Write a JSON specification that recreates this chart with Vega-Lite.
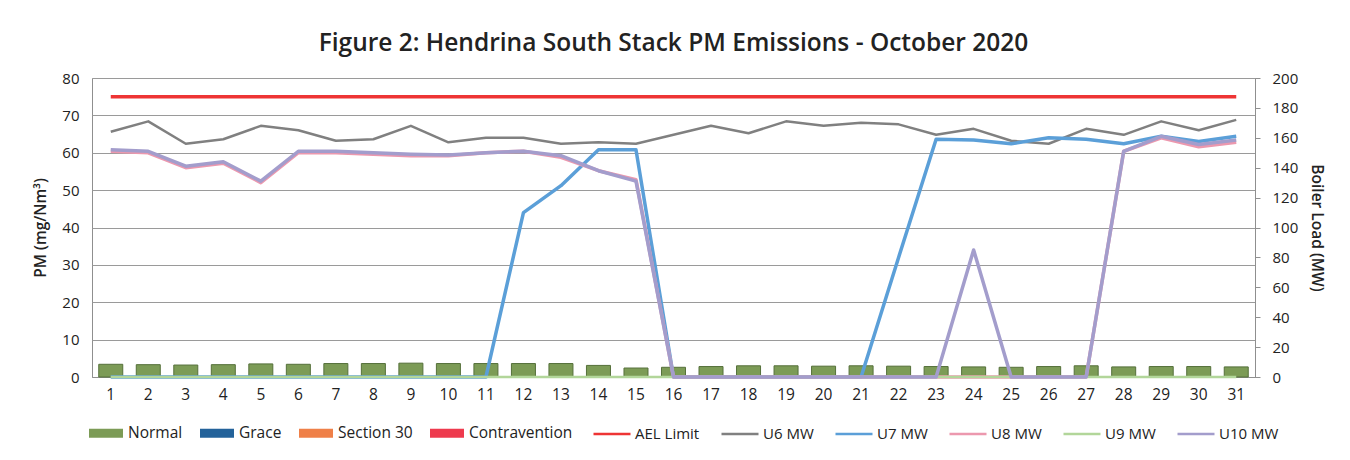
{
  "$schema": "https://vega.github.io/schema/vega-lite/v6.json",
  "autosize": {"type": "none"},
  "padding": {"left": 92, "top": 78, "right": 95, "bottom": 83},
  "width": 1163,
  "height": 299,
  "background": "white",
  "config": {
    "font": "Open Sans",
    "view": {"stroke": "#8f8f8f", "strokeWidth": 1},
    "axis": {"labelFont": "Open Sans", "labelFontSize": 15, "labelColor": "#222", "titleFont": "Open Sans", "titleFontSize": 15.5, "titleColor": "#222", "titleFontWeight": 600, "labelOverlap": false}
  },
  "title": {
    "text": "Figure 2: Hendrina South Stack PM Emissions -  October 2020",
    "font": "Open Sans",
    "fontSize": 24.5,
    "fontWeight": 600,
    "color": "#222",
    "anchor": "middle",
    "offset": 15
  },
  "datasets": {
    "daily": [
      {"day": 1, "status": "Normal", "pm": 3.4, "AEL Limit": 75, "U6 MW": 164, "U7 MW": 0, "U8 MW": 151, "U9 MW": 0, "U10 MW": 152},
      {"day": 2, "status": "Normal", "pm": 3.3, "AEL Limit": 75, "U6 MW": 171, "U7 MW": 0, "U8 MW": 150, "U9 MW": 0, "U10 MW": 151},
      {"day": 3, "status": "Normal", "pm": 3.2, "AEL Limit": 75, "U6 MW": 156, "U7 MW": 0, "U8 MW": 140, "U9 MW": 0, "U10 MW": 141},
      {"day": 4, "status": "Normal", "pm": 3.3, "AEL Limit": 75, "U6 MW": 159, "U7 MW": 0, "U8 MW": 143, "U9 MW": 0, "U10 MW": 144},
      {"day": 5, "status": "Normal", "pm": 3.5, "AEL Limit": 75, "U6 MW": 168, "U7 MW": 0, "U8 MW": 130, "U9 MW": 0, "U10 MW": 131},
      {"day": 6, "status": "Normal", "pm": 3.4, "AEL Limit": 75, "U6 MW": 165, "U7 MW": 0, "U8 MW": 150, "U9 MW": 0, "U10 MW": 151},
      {"day": 7, "status": "Normal", "pm": 3.6, "AEL Limit": 75, "U6 MW": 158, "U7 MW": 0, "U8 MW": 150, "U9 MW": 0, "U10 MW": 151},
      {"day": 8, "status": "Normal", "pm": 3.6, "AEL Limit": 75, "U6 MW": 159, "U7 MW": 0, "U8 MW": 149, "U9 MW": 0, "U10 MW": 150},
      {"day": 9, "status": "Normal", "pm": 3.7, "AEL Limit": 75, "U6 MW": 168, "U7 MW": 0, "U8 MW": 148, "U9 MW": 0, "U10 MW": 149},
      {"day": 10, "status": "Normal", "pm": 3.6, "AEL Limit": 75, "U6 MW": 157, "U7 MW": 0, "U8 MW": 148, "U9 MW": 0, "U10 MW": 148.5},
      {"day": 11, "status": "Normal", "pm": 3.6, "AEL Limit": 75, "U6 MW": 160, "U7 MW": 0, "U8 MW": 150, "U9 MW": 0, "U10 MW": 150},
      {"day": 12, "status": "Normal", "pm": 3.6, "AEL Limit": 75, "U6 MW": 160, "U7 MW": 110, "U8 MW": 151, "U9 MW": 0, "U10 MW": 151},
      {"day": 13, "status": "Normal", "pm": 3.6, "AEL Limit": 75, "U6 MW": 156, "U7 MW": 128, "U8 MW": 147, "U9 MW": 0, "U10 MW": 148},
      {"day": 14, "status": "Normal", "pm": 3.1, "AEL Limit": 75, "U6 MW": 157, "U7 MW": 152, "U8 MW": 138, "U9 MW": 0, "U10 MW": 138},
      {"day": 15, "status": "Normal", "pm": 2.4, "AEL Limit": 75, "U6 MW": 156, "U7 MW": 152, "U8 MW": 132, "U9 MW": 0, "U10 MW": 131},
      {"day": 16, "status": "Normal", "pm": 2.6, "AEL Limit": 75, "U6 MW": 162, "U7 MW": 0, "U8 MW": 0, "U9 MW": 0, "U10 MW": 0},
      {"day": 17, "status": "Normal", "pm": 2.8, "AEL Limit": 75, "U6 MW": 168, "U7 MW": 0, "U8 MW": 0, "U9 MW": 0, "U10 MW": 0},
      {"day": 18, "status": "Normal", "pm": 3.0, "AEL Limit": 75, "U6 MW": 163, "U7 MW": 0, "U8 MW": 0, "U9 MW": 0, "U10 MW": 0},
      {"day": 19, "status": "Normal", "pm": 3.0, "AEL Limit": 75, "U6 MW": 171, "U7 MW": 0, "U8 MW": 0, "U9 MW": 0, "U10 MW": 0},
      {"day": 20, "status": "Normal", "pm": 2.9, "AEL Limit": 75, "U6 MW": 168, "U7 MW": 0, "U8 MW": 0, "U9 MW": 0, "U10 MW": 0},
      {"day": 21, "status": "Normal", "pm": 3.0, "AEL Limit": 75, "U6 MW": 170, "U7 MW": 0, "U8 MW": 0, "U9 MW": 0, "U10 MW": 0},
      {"day": 22, "status": "Normal", "pm": 2.9, "AEL Limit": 75, "U6 MW": 169, "U7 MW": 80, "U8 MW": 0, "U9 MW": 0, "U10 MW": 0},
      {"day": 23, "status": "Normal", "pm": 2.8, "AEL Limit": 75, "U6 MW": 162, "U7 MW": 159, "U8 MW": 0, "U9 MW": 0, "U10 MW": 0},
      {"day": 24, "status": "Normal", "pm": 2.7, "AEL Limit": 75, "U6 MW": 166, "U7 MW": 158.5, "U8 MW": 0, "U9 MW": 0, "U10 MW": 85},
      {"day": 25, "status": "Normal", "pm": 2.6, "AEL Limit": 75, "U6 MW": 158, "U7 MW": 156, "U8 MW": 0, "U9 MW": 0, "U10 MW": 0},
      {"day": 26, "status": "Normal", "pm": 2.8, "AEL Limit": 75, "U6 MW": 156, "U7 MW": 160, "U8 MW": 0, "U9 MW": 0, "U10 MW": 0},
      {"day": 27, "status": "Normal", "pm": 3.0, "AEL Limit": 75, "U6 MW": 166, "U7 MW": 159, "U8 MW": 0, "U9 MW": 0, "U10 MW": 0},
      {"day": 28, "status": "Normal", "pm": 2.7, "AEL Limit": 75, "U6 MW": 162, "U7 MW": 156, "U8 MW": 151, "U9 MW": 0, "U10 MW": 151},
      {"day": 29, "status": "Normal", "pm": 2.8, "AEL Limit": 75, "U6 MW": 171, "U7 MW": 161, "U8 MW": 160, "U9 MW": 0, "U10 MW": 161},
      {"day": 30, "status": "Normal", "pm": 2.8, "AEL Limit": 75, "U6 MW": 165, "U7 MW": 157.5, "U8 MW": 154, "U9 MW": 0, "U10 MW": 155.5},
      {"day": 31, "status": "Normal", "pm": 2.7, "AEL Limit": 75, "U6 MW": 172, "U7 MW": 161, "U8 MW": 157, "U9 MW": 0, "U10 MW": 158.5}
    ]
  },
  "data": {"name": "daily"},
  "encoding": {
    "x": {
      "field": "day",
      "type": "ordinal",
      "scale": {"paddingInner": 0.36, "paddingOuter": 0.18},
      "axis": {"title": null, "labelAngle": 0, "ticks": false, "labelPadding": 10, "domain": true, "domainColor": "#8f8f8f", "grid": false, "labelFontSize": 15.5}
    }
  },
  "layer": [
    {
      "encoding": {
        "y": {
          "field": "value",
          "type": "quantitative",
          "scale": {"domain": [0, 80], "nice": false},
          "axis": {"title": "PM (mg/Nm³)", "values": [0, 10, 20, 30, 40, 50, 60, 70, 80], "grid": true, "gridColor": "#9a9a9a", "gridWidth": 1, "ticks": false, "tickSize": 0, "domain": false, "labelPadding": 13, "titlePadding": 13}
        }
      },
      "layer": [
        {
          "transform": [{"fold": ["pm"], "as": ["measure", "value"]}],
          "mark": {"type": "bar", "stroke": "#55703a", "strokeWidth": 1},
          "encoding": {
            "fill": {
              "field": "status",
              "type": "nominal",
              "scale": {"domain": ["Normal", "Grace", "Section 30", "Contravention"], "range": ["#7c9b56", "#23629a", "#ef8048", "#ee3a4e"]},
              "legend": {"orient": "none", "legendX": -3, "legendY": 338, "direction": "horizontal", "title": null, "symbolType": "M-1,-0.27H1V0.27H-1Z", "symbolSize": 1156, "symbolStrokeWidth": 0, "symbolOpacity": 1, "labelFont": "Open Sans", "labelFontSize": 15.5, "labelColor": "#222", "labelOffset": 5, "columnPadding": 17, "padding": 0}
            }
          }
        },
        {
          "transform": [{"fold": ["AEL Limit"], "as": ["series", "value"]}],
          "mark": {"type": "line", "strokeWidth": 3.5},
          "encoding": {
            "stroke": {"field": "series", "type": "nominal"}
          }
        }
      ]
    },
    {
      "encoding": {
        "y": {
          "field": "value",
          "type": "quantitative",
          "scale": {"domain": [0, 200], "nice": false},
          "axis": {"orient": "right", "title": "Boiler Load (MW)", "values": [0, 20, 40, 60, 80, 100, 120, 140, 160, 180, 200], "grid": false, "ticks": true, "tickSize": 5, "tickColor": "#8f8f8f", "domain": true, "domainColor": "#8f8f8f", "labelPadding": 12, "titlePadding": 11}
        },
        "stroke": {
          "field": "series",
          "type": "nominal",
          "scale": {"domain": ["AEL Limit", "U6 MW", "U7 MW", "U8 MW", "U9 MW", "U10 MW"], "range": ["#ee3434", "#808080", "#5b9fd8", "#ec98ae", "#b2d69a", "#a39dcc"]},
          "legend": {"orient": "none", "legendX": 500, "legendY": 336, "direction": "horizontal", "title": null, "symbolType": "stroke", "symbolSize": 1369, "symbolStrokeWidth": 2.5, "labelFont": "Open Sans", "labelFontSize": 15, "labelColor": "#222", "labelOffset": 3, "columnPadding": 16, "padding": 0}
        }
      },
      "layer": [
        {
          "transform": [{"fold": ["U6 MW"], "as": ["series", "value"]}],
          "mark": {"type": "line", "strokeWidth": 2.5, "strokeJoin": "round"}
        },
        {
          "transform": [{"fold": ["U7 MW"], "as": ["series", "value"]}],
          "mark": {"type": "line", "strokeWidth": 3.5, "strokeJoin": "round"}
        },
        {
          "transform": [{"fold": ["U8 MW"], "as": ["series", "value"]}],
          "mark": {"type": "line", "strokeWidth": 3.5, "strokeJoin": "round"}
        },
        {
          "transform": [{"fold": ["U9 MW"], "as": ["series", "value"]}],
          "mark": {"type": "line", "strokeWidth": 2.5, "strokeJoin": "round"}
        },
        {
          "transform": [{"fold": ["U10 MW"], "as": ["series", "value"]}],
          "mark": {"type": "line", "strokeWidth": 3.5, "strokeJoin": "round"}
        }
      ]
    }
  ],
  "resolve": {"scale": {"y": "independent"}}
}
